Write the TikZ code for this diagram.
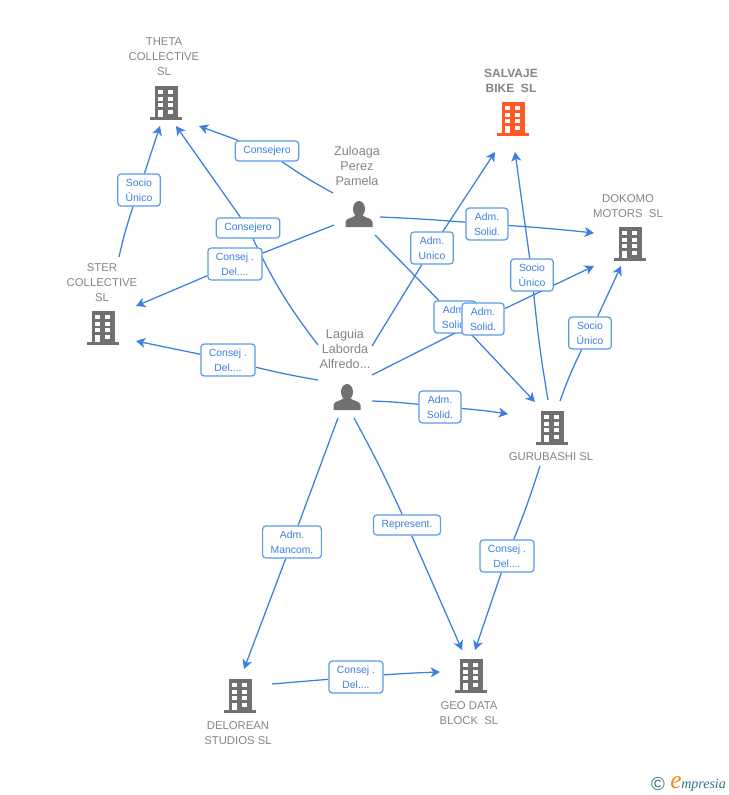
\documentclass[tikz,border=0pt]{standalone}
\usepackage{fontspec}
\setmainfont{Liberation Sans}
\newfontfamily\logofont{Liberation Serif}
\usetikzlibrary{arrows.meta,backgrounds}
\definecolor{linkblue}{HTML}{3B80E0}
\definecolor{boxblue}{HTML}{5A9BE8}
\definecolor{icongray}{HTML}{707070}
\definecolor{namegray}{HTML}{858585}
\definecolor{iconred}{HTML}{FF5A26}
\definecolor{logoteal}{HTML}{2F7187}
\definecolor{logoorange}{HTML}{F28A1E}
\tikzset{
	x=.75pt,y=-.75pt,
	pics/building/.style={code={
		\fill[#1] (-11.5,-17) rectangle (11.5,14);
		\fill[#1] (-16,14) rectangle (16,17);
		\foreach \wy in {-13,-6,0} {
			\fill[white] (-8,\wy) rectangle ++(5,4);
			\fill[white] (2,\wy) rectangle ++(5,4);
		}
		\fill[white] (-8,7) rectangle (-3,14);
		\fill[white] (2,7) rectangle (7,11);
	}},
	pics/person/.style={code={
		\fill[icongray] (0,-5) ellipse (6 and 8);
		\fill[icongray] (-13.5,13) -- (-13.5,8) .. controls (-13,4) and (-6,4) .. (-3,1) -- (3,1) .. controls (6,4) and (13,4) .. (13.5,8) -- (13.5,13) -- cycle;
	}},
	namelabel/.style={align=center,inner sep=0pt,text=namegray,font=\fontsize{8.5}{11.2}\selectfont},
	personlabel/.style={namelabel,font=\fontsize{9.5}{11.2}\selectfont},
	linkbox/.style={draw=boxblue,fill=white,rounded corners=2.4pt,line width=.9pt,align=center,text=linkblue,
		inner xsep=6pt,inner ysep=3.5pt,minimum height=15pt,font=\fontsize{7.8}{11.2}\selectfont},
	linkline/.style={draw=linkblue,line width=.95pt},
	linktip/.style={linkline,-{Stealth[inset=2pt,length=7pt,width=7.5pt]}}
}
\begin{document}
\begin{tikzpicture}
	\useasboundingbox (0,0) rectangle (728,795);
	\foreach \nm/\x/\y in {theta/166/103,dokomo/630/244,ster/103/328,gurubashi/552/428,geo/471/676,delorean/240/696} {\pic (\nm) at (\x,\y) {building=icongray};}
	\pic (salvaje) at (513,119) {building=iconred};
	\pic (zuloaga) at (359,214) {person};
	\pic (laguia) at (347,397) {person};
	\foreach \nm/\x/\y/\txt in {thetaname/164/57/{THETA\\COLLECTIVE\\SL},dokomoname/628/206/{DOKOMO\\MOTORS\ \ SL},stername/102/283/{STER\\COLLECTIVE\\SL},gurubashiname/551/457/{GURUBASHI SL},geoname/469/713/{GEO DATA\\BLOCK\ \ SL},deloreanname/238/733/{DELOREAN\\STUDIOS SL}} {\node[namelabel] (\nm) at (\x,\y) {\txt};}
	\node[namelabel,font=\fontsize{9}{11.2}\bfseries\selectfont] (salvajename) at (511,81) {SALVAJE\\BIKE\ \ SL};
	\node[personlabel] (zuloaganame) at (357,166) {Zuloaga\\Perez\\Pamela};
	\node[personlabel] (laguianame) at (345,349) {Laguia\\Laborda\\Alfredo...};
	\foreach \nm/\x/\y in {zsa/333/193,zsb/334/225,zsc/380/217,zsd/375/235,lsa/318/345,lsb/318/380,lsc/372/346,lsd/372/375,lse/372/401,lsf/338/418,lsg/354/418,gsa/548/400,gsb/560/401,gsc/540/466,ssa/119/257,dsa/272/684,tea/160/126,teb/199/126,tec/176/126,stea/136/306,steb/136/341,saea/495/152,saeb/515/152,doea/594/233,doeb/594/266,doec/621/266,guea/535/402,gueb/508/414,deea/244/669,geea/462/650,geeb/475/650,geec/440/672} {\coordinate (\nm) at (\x,\y);}
	\foreach \nm/\x/\y/\txt in {bsocioa/139/190/{Socio\\Único},bconsa/267/151/{Consejero},bconsb/248/228/{Consejero},bdela/235/264/{Consej .\\Del....},bdelb/228/360/{Consej .\\Del....},bunico/432/248/{Adm.\\Unico},bsola/487/224/{Adm.\\Solid.},bsocb/532/275/{Socio\\Único},bsolb/455/317/{Adm.\\Solid.},bsolc/483/319/{Adm.\\Solid.},bsocc/590/333/{Socio\\Único},bsold/440/407/{Adm.\\Solid.},bmanc/292/542/{Adm.\\Mancom.},brep/407/525/{Represent.},bdelc/507/556/{Consej .\\Del....},bdeld/356/677/{Consej .\\Del....}} {\node[linkbox] (\nm) at (\x,\y) {\txt};}
	\begin{scope}[on background layer]
		\foreach \from/\via/\to/\ba/\bb in {ssa/bsocioa/tea/3/0,zsa/bconsa/teb/3/0,lsa/bconsb/tec/6/0,zsb/bdela/stea/0/0,lsb/bdelb/steb/2/0,lsc/bunico/saea/0/0,zsc/bsola/doea/1/1,zsd/bsolb/guea/0/0,lsd/bsolc/doeb/0/0,gsa/bsocb/saeb/2/0,gsb/bsocc/doec/3/0,lse/bsold/gueb/2/2,lsf/bmanc/deea/0/0,lsg/brep/geea/2/0,gsc/bdelc/geeb/2/0,dsa/bdeld/geec/0/1} {
			\draw[linkline] (\from) to[bend left=\ba] (\via);
			\draw[linktip] (\via) to[bend left=\bb] (\to);
		}
	\end{scope}
	\node[circle,inner sep=0pt,text=logoteal,font=\fontsize{14}{14}\selectfont] (logoc) at (658,784) {©};
	\node[inner sep=0pt,text=logoorange,font=\logofont\itshape\fontsize{19}{19}\selectfont] (logoe) at (676,783) {e};
	\node[inner sep=0pt,text=logoteal,anchor=west,font=\logofont\itshape\fontsize{10.5}{12}\selectfont] (logot) at (681,785) {mpresia};
\end{tikzpicture}
\end{document}
